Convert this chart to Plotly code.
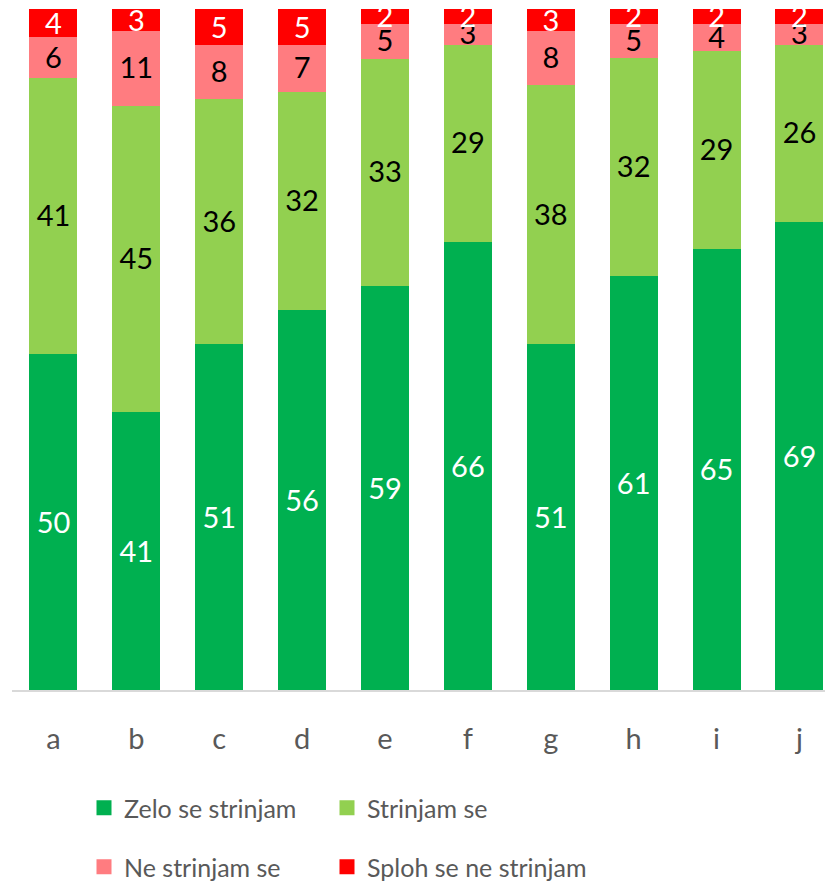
import plotly.graph_objects as go

categories = ["a", "b", "c", "d", "e", "f", "g", "h", "i", "j"]
zelo = [50, 41, 51, 56, 59, 66, 51, 61, 65, 69]
strinjam = [41, 45, 36, 32, 33, 29, 38, 32, 29, 26]
ne_strinjam = [6, 11, 8, 7, 5, 3, 8, 5, 4, 3]
sploh_ne = [4, 3, 5, 5, 2, 2, 3, 2, 2, 2]

series_names = ["Zelo se strinjam", "Strinjam se", "Ne strinjam se", "Sploh se ne strinjam"]
series_values = [zelo, strinjam, ne_strinjam, sploh_ne]
series_colors = ["#00B050", "#92D050", "#FF7C80", "#FF0000"]
label_colors = ["white", "black", "black", "white"]

FONT = "Lato"

# the page body has an 8px margin, so the figure is drawn 8px in from the window edge
W, H = 825, 875
L, R, T, B = 3.5, 0, 1, 193
step = 82.94
span = (W - L - R) / step

# legend slots (left x, centre y) in figure pixels: 2 columns x 2 rows
legend_slots = [(76, 800), (319, 800), (76, 859), (319, 859)]
legend_ids = ["legend", "legend2", "legend3", "legend4"]

fig = go.Figure()
for name, vals, color, tcolor, leg in zip(series_names, series_values,
                                         series_colors, label_colors, legend_ids):
    fig.add_trace(go.Bar(
        x=categories, y=vals, name=name,
        marker=dict(color=color, line=dict(width=3, color=color)),
        text=[str(v) for v in vals],
        textposition="inside",
        insidetextanchor="middle",
        constraintext="none",
        textangle=0,
        textfont=dict(family=FONT, size=29, color=tcolor),
        cliponaxis=True,
        legend=leg,
        showlegend=True,
        hoverinfo="skip",
    ))

legend_layout = {}
for leg, (lx, ly) in zip(legend_ids, legend_slots):
    legend_layout[leg] = dict(
        orientation="h", xanchor="left", yanchor="middle",
        xref="container", yref="container",
        x=lx / W, y=1 - ly / H,
        font=dict(family=FONT, size=25, color="#595959"),
        itemwidth=30, bgcolor="rgba(0,0,0,0)", visible=True,
    )

fig.update_layout(
    width=W, height=H, showlegend=True,
    barmode="stack", barnorm="percent", bargap=0.457,
    plot_bgcolor="white", paper_bgcolor="white",
    margin=dict(l=L, r=R, t=T, b=B, pad=0, autoexpand=False),
    font=dict(family=FONT, color="#595959"),
    xaxis=dict(
        type="category", range=[-0.5, -0.5 + span],
        showline=True, linecolor="#D9D9D9", linewidth=2,
        ticks="", showgrid=False,
        tickfont=dict(family=FONT, size=29, color="#595959"),
        ticklabelstandoff=22,
    ),
    yaxis=dict(range=[0, 100], visible=False, showgrid=False, zeroline=False),
    **legend_layout,
)

fig.write_html("out.html")
